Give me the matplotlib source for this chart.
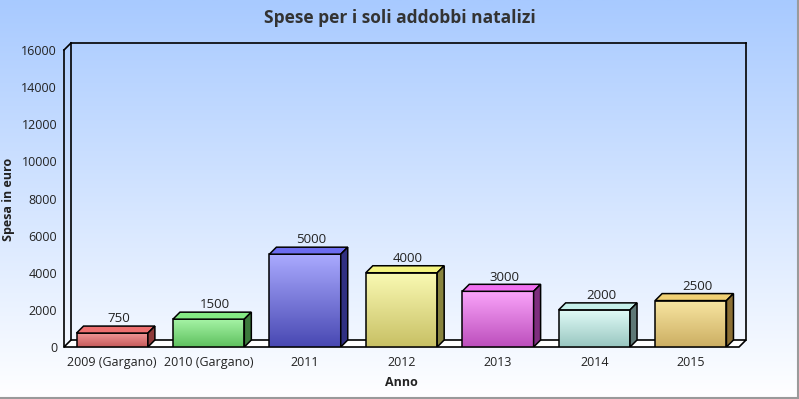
import matplotlib.pyplot as plt
import numpy as np
from matplotlib.patches import Polygon, Rectangle

plt.rcParams['font.family'] = ['Open Sans', 'DejaVu Sans']

# data
anni = ["2009 (Gargano)", "2010 (Gargano)", "2011", "2012", "2013", "2014", "2015"]
spese = [750, 1500, 5000, 4000, 3000, 2000, 2500]

# colours per bar: (front top, front bottom, top face, side face)
colori = [
    ("#f29696", "#c45a5a", "#ee7070", "#8e3a3a"),
    ("#a6f4a6", "#5ec05e", "#84ea84", "#3c7a3c"),
    ("#aaaaff", "#4848b2", "#6c6cf0", "#303082"),
    ("#fafab4", "#c8c064", "#f4f480", "#88843e"),
    ("#faa4fa", "#bc4ebc", "#f070f0", "#7e2e7e"),
    ("#e2fcf8", "#98c6c0", "#c6f0ea", "#5e7876"),
    ("#f8e6a2", "#ccae62", "#f0d074", "#8c7034"),
]

W, H = 799, 399
fig = plt.figure(figsize=(W / 100, H / 100), dpi=100)

# page background gradient
bg = fig.add_axes([0, 0, 1, 1], zorder=-1)
grad = np.linspace(0, 1, 256).reshape(-1, 1)
top = np.array([0xa8, 0xca, 0xff]) / 255
bot = np.array([1.0, 1.0, 1.0])
img = top + (bot - top) * grad[..., None]
bg.imshow(img, extent=[0, 1, 0, 1], aspect="auto", origin="upper")
bg.set_xlim(0, 1)
bg.set_ylim(0, 1)
bg.axis("off")
bg.plot([0, 1], [0.003, 0.003], color="#9a9a9a", lw=1.5)
bg.plot([0.9985, 0.9985], [0, 1], color="#9a9a9a", lw=1.5)

# plot area (front face of the 3d box)
L, R, T, B = 64, 739, 50, 347
ax = fig.add_axes([L / W, 1 - B / H, (R - L) / W, (B - T) / H])
ymax = 16000
n = len(anni)
ax.set_xlim(0, n)
ax.set_ylim(0, ymax)
ax.patch.set_alpha(0)
for s in ax.spines.values():
    s.set_visible(False)

depth = 7  # pixels
dx = depth * n / (R - L)
dy = depth * ymax / (B - T)

# floor
ax.add_patch(Polygon([(0, 0), (dx, dy), (n + dx, dy), (n, 0)], closed=True,
                     facecolor="white", edgecolor="black", lw=1.2, clip_on=False, zorder=1))
# walls
kw = dict(color="black", lw=1.2, clip_on=False, zorder=1)
ax.plot([0, 0], [0, ymax], **kw)
ax.plot([0, dx], [ymax, ymax + dy], **kw)
ax.plot([dx, n + dx], [ymax + dy, ymax + dy], **kw)
ax.plot([n + dx, n + dx], [ymax + dy, dy], **kw)
ax.plot([dx, dx], [ymax + dy, dy], **kw)

bw = 0.74
x = np.arange(n) + 0.5
for i, (xc, v) in enumerate(zip(x, spese)):
    c_top, c_bot, c_cap, c_side = colori[i]
    x0 = xc - bw / 2
    rect = Rectangle((x0, 0), bw, v, facecolor="none", edgecolor="black", lw=1.1, zorder=4)
    ax.add_patch(rect)
    a = np.array(plt.matplotlib.colors.to_rgb(c_top))
    b = np.array(plt.matplotlib.colors.to_rgb(c_bot))
    g = a + (b - a) * grad[..., None]
    im = ax.imshow(g, extent=[x0, x0 + bw, 0, v], aspect="auto", origin="upper", zorder=3)
    im.set_clip_path(rect)
    ax.add_patch(Polygon([(x0, v), (x0 + dx, v + dy), (x0 + bw + dx, v + dy), (x0 + bw, v)],
                         closed=True, facecolor=c_cap, edgecolor="black", lw=1.1, zorder=4))
    ax.add_patch(Polygon([(x0 + bw, 0), (x0 + bw, v), (x0 + bw + dx, v + dy), (x0 + bw + dx, dy)],
                         closed=True, facecolor=c_side, edgecolor="black", lw=1.1, zorder=4))
    ax.annotate(str(v), (xc + dx / 2, v + dy), xytext=(2.2, 0.5), textcoords="offset points",
                ha="center", va="bottom", fontsize=9.5, color="#222222", zorder=5)

ax.set_xticks(x)
ax.set_xticklabels(anni, fontsize=9, color="#222222")
ax.set_yticks(np.arange(0, ymax + 1, 2000))
ax.set_yticklabels([str(t) for t in range(0, ymax + 1, 2000)], fontsize=9, color="#222222")
ax.tick_params(length=0)
ax.tick_params(axis="x", pad=6.5)
ax.tick_params(axis="y", pad=5)

fig.text(0.5 * (L + R) / W, 1 - 382 / H, "Anno", ha="center", va="center",
         fontsize=9, fontweight="bold", color="#222222")
fig.text(9 / W, 1 - 199 / H, "Spesa in euro", ha="center", va="center", rotation=90,
         fontsize=9, fontweight="bold", color="#222222")
fig.text(0.5, 1 - 18 / H, "Spese per i soli addobbi natalizi", ha="center", va="center",
         fontsize=12.5, fontweight="bold", color="#333333")

fig.savefig("out.png", dpi=100)
